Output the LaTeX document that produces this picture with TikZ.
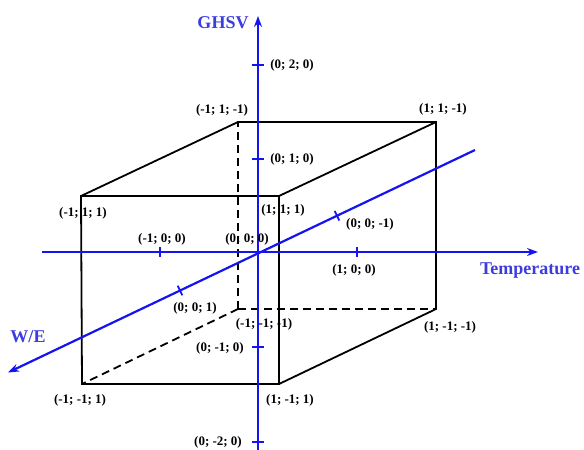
\documentclass[tikz,border=0pt]{standalone}
\usepackage{fontspec}
\setmainfont{Liberation Serif}
\usetikzlibrary{arrows.meta}
\definecolor{axisblue}{RGB}{20,20,240}
\definecolor{labelblue}{RGB}{60,60,225}
\begin{document}
\begin{tikzpicture}[x=1pt,y=-1pt,
  edge/.style={line width=1.8pt,black},
  hidden/.style={edge,dash pattern=on 8pt off 5pt},
  axis/.style={line width=2.2pt,axisblue},
  axisarrow/.style={axis,-{Stealth[length=11pt,width=8pt]}},
  tick/.style={line width=1.8pt,axisblue},
  coord/.style={font=\fontsize{13}{13}\selectfont\bfseries,inner sep=0pt},
  axlabel/.style={font=\fontsize{18}{18}\selectfont\bfseries,text=labelblue,inner sep=0pt}]
\useasboundingbox (0,0) rectangle (584,450);
% cube corners
\coordinate (FTL) at (81,196);
\coordinate (FTR) at (279,196);
\coordinate (FBL) at (82,384);
\coordinate (FBR) at (279,384);
\coordinate (BTL) at (238,122);
\coordinate (BTR) at (436,122);
\coordinate (BBL) at (238,309);
\coordinate (BBR) at (436,309);
% cube
\draw[hidden] (BBL) -- (BTL);
\draw[hidden] (BBL) -- (BBR);
\draw[hidden] (BBL) -- (FBL);
\draw[edge] (FTL) -- (FTR) -- (FBR) -- (FBL) -- cycle;
\draw[edge] (FTL) -- (BTL) -- (BTR) -- (BBR) -- (FBR);
\draw[edge] (FTR) -- (BTR);
% axes
\coordinate (XS) at (42,252);
\coordinate (XE) at (538,252);
\coordinate (YS) at (258,450);
\coordinate (YE) at (258,16);
\coordinate (ZS) at (475,150);
\coordinate (ZE) at (8,372.5);
\draw[axisarrow] (XS) -- (XE);
\draw[axisarrow] (YS) -- (YE);
\draw[axisarrow] (ZS) -- (ZE);
% ticks
\coordinate (tx1) at (160,252);
\coordinate (tx2) at (357,252);
\coordinate (ty1) at (258,65);
\coordinate (ty2) at (258,159);
\coordinate (ty3) at (258,347);
\coordinate (ty4) at (258,442);
\coordinate (tz1) at (337,215.7);
\coordinate (tz2) at (180,290.5);
\foreach \t in {tx1,tx2}{\draw[tick] ([yshift=-5pt]\t) -- ([yshift=5pt]\t);}
\foreach \t in {ty1,ty2,ty3,ty4}{\draw[tick] ([xshift=-6pt]\t) -- ([xshift=6pt]\t);}
\foreach \t in {tz1,tz2}{\draw[tick] ([shift={(-2.3,-4.8)}]\t) -- ([shift={(2.3,4.8)}]\t);}
% axis labels
\node[axlabel] (lghsv) at (223,23) {GHSV};
\node[axlabel] (ltemp) at (530,271) {Temperature};
\node[axlabel] (lwe) at (28,337) {W/E};
% coordinate labels
\node[coord] (l020) at (292,65) {(0; 2; 0)};
\node[coord] (l010) at (292,159) {(0; 1; 0)};
\node[coord] (lm1m1) at (222,110) {(-1; 1; -1)};
\node[coord] (l11m1) at (443,109) {(1; 1; -1)};
\node[coord] (lm111) at (83,213) {(-1; 1; 1)};
\node[coord] (l111) at (283,210) {(1; 1; 1)};
\node[coord] (lm100) at (162,239) {(-1; 0; 0)};
\node[coord] (l000) at (247,239) {(0; 0; 0)};
\node[coord] (l00m1) at (370,224) {(0; 0; -1)};
\node[coord] (l100) at (354,270) {(1; 0; 0)};
\node[coord] (l001) at (195,308) {(0; 0; 1)};
\node[coord] (lm1m1m1) at (264,324) {(-1; -1; -1)};
\node[coord] (l0m10) at (220,348) {(0; -1; 0)};
\node[coord] (lm1m11) at (80,400) {(-1; -1; 1)};
\node[coord] (l1m11) at (290,400) {(1; -1; 1)};
\node[coord] (l1m1m1) at (450,327) {(1; -1; -1)};
\node[coord] (l0m20) at (218,442) {(0; -2; 0)};
\end{tikzpicture}
\end{document}
